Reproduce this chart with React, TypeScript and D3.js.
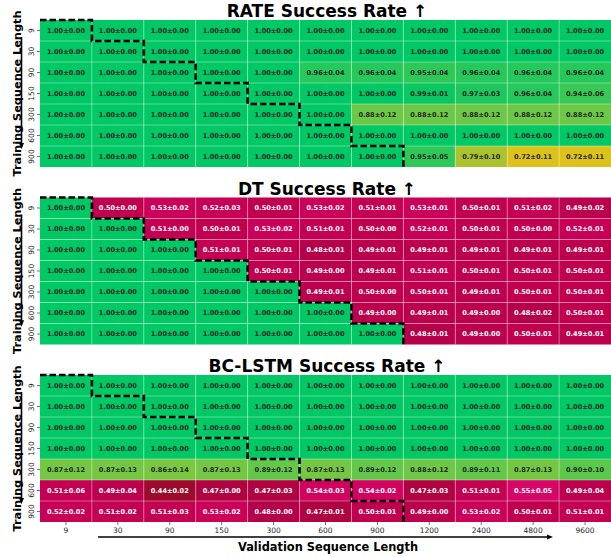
import React from 'react';
import * as d3 from 'd3';

// validation lengths (columns) and training lengths (rows)
const valLengths = ['9', '30', '90', '150', '300', '600', '900', '1200', '2400', '4800', '9600'];
const trainLengths = ['9', '30', '90', '150', '300', '600', '900'];

const rateMean = [
  [1, 1, 1, 1, 1, 1, 1, 1, 1, 1, 1],
  [1, 1, 1, 1, 1, 1, 1, 1, 1, 1, 1],
  [1, 1, 1, 1, 1, 0.96, 0.96, 0.95, 0.96, 0.96, 0.96],
  [1, 1, 1, 1, 1, 1, 1, 0.99, 0.97, 0.96, 0.94],
  [1, 1, 1, 1, 1, 1, 0.88, 0.88, 0.88, 0.88, 0.88],
  [1, 1, 1, 1, 1, 1, 1, 1, 1, 1, 1],
  [1, 1, 1, 1, 1, 1, 1, 0.95, 0.79, 0.72, 0.72],
];
const rateStd = [
  [0, 0, 0, 0, 0, 0, 0, 0, 0, 0, 0],
  [0, 0, 0, 0, 0, 0, 0, 0, 0, 0, 0],
  [0, 0, 0, 0, 0, 0.04, 0.04, 0.04, 0.04, 0.04, 0.04],
  [0, 0, 0, 0, 0, 0, 0, 0.01, 0.03, 0.04, 0.06],
  [0, 0, 0, 0, 0, 0, 0.12, 0.12, 0.12, 0.12, 0.12],
  [0, 0, 0, 0, 0, 0, 0, 0, 0, 0, 0],
  [0, 0, 0, 0, 0, 0, 0, 0.05, 0.1, 0.11, 0.11],
];

const dtMean = [
  [1, 0.5, 0.53, 0.52, 0.5, 0.53, 0.51, 0.53, 0.5, 0.51, 0.49],
  [1, 1, 0.51, 0.5, 0.53, 0.51, 0.5, 0.52, 0.5, 0.5, 0.52],
  [1, 1, 1, 0.51, 0.5, 0.48, 0.49, 0.49, 0.49, 0.49, 0.49],
  [1, 1, 1, 1, 0.5, 0.49, 0.49, 0.51, 0.5, 0.5, 0.5],
  [1, 1, 1, 1, 1, 0.49, 0.5, 0.5, 0.49, 0.5, 0.5],
  [1, 1, 1, 1, 1, 1, 0.49, 0.49, 0.49, 0.48, 0.5],
  [1, 1, 1, 1, 1, 1, 1, 0.48, 0.49, 0.5, 0.49],
];
const dtStd = [
  [0, 0, 0.02, 0.03, 0.01, 0.02, 0.01, 0.01, 0.01, 0.02, 0.02],
  [0, 0, 0, 0.01, 0.02, 0.01, 0, 0.01, 0.01, 0, 0.01],
  [0, 0, 0, 0.01, 0.01, 0.01, 0.01, 0.01, 0.01, 0.01, 0.01],
  [0, 0, 0, 0, 0.01, 0, 0.01, 0.01, 0.01, 0.01, 0.01],
  [0, 0, 0, 0, 0, 0.01, 0, 0.01, 0.01, 0.01, 0.01],
  [0, 0, 0, 0, 0, 0, 0, 0.01, 0, 0.02, 0.01],
  [0, 0, 0, 0, 0, 0, 0, 0.01, 0, 0.01, 0.01],
];

const lstmMean = [
  [1, 1, 1, 1, 1, 1, 1, 1, 1, 1, 1],
  [1, 1, 1, 1, 1, 1, 1, 1, 1, 1, 1],
  [1, 1, 1, 1, 1, 1, 1, 1, 1, 1, 1],
  [1, 1, 1, 1, 1, 1, 1, 1, 1, 1, 1],
  [0.87, 0.87, 0.86, 0.87, 0.89, 0.87, 0.89, 0.88, 0.89, 0.87, 0.9],
  [0.51, 0.49, 0.44, 0.47, 0.47, 0.54, 0.54, 0.47, 0.51, 0.55, 0.49],
  [0.52, 0.51, 0.51, 0.53, 0.48, 0.47, 0.5, 0.49, 0.53, 0.5, 0.51],
];
const lstmStd = [
  [0, 0, 0, 0, 0, 0, 0, 0, 0, 0, 0],
  [0, 0, 0, 0, 0, 0, 0, 0, 0, 0, 0],
  [0, 0, 0, 0, 0, 0, 0, 0, 0, 0, 0],
  [0, 0, 0, 0, 0, 0, 0, 0, 0, 0, 0],
  [0.12, 0.13, 0.14, 0.13, 0.12, 0.13, 0.12, 0.12, 0.11, 0.13, 0.1],
  [0.06, 0.04, 0.02, 0, 0.03, 0.03, 0.02, 0.03, 0.01, 0.05, 0.04],
  [0.02, 0.02, 0.03, 0.02, 0, 0.01, 0.01, 0, 0.02, 0.01, 0.01],
];

const panels = [
  { title: 'RATE Success Rate ↑', mean: rateMean, std: rateStd, top: 20 },
  { title: 'DT Success Rate ↑', mean: dtMean, std: dtStd, top: 197.5 },
  { title: 'BC-LSTM Success Rate ↑', mean: lstmMean, std: lstmStd, top: 375 },
];

const W = 611;
const H = 557;
const left = 40;
const right = 611;
const panelH = 147;
const FONT = '"DejaVu Sans", sans-serif';

const color = d3
  .scaleLinear<string>()
  .domain([0.44, 0.48, 0.5, 0.53, 0.55, 0.72, 0.79, 0.88, 0.95, 1])
  .range(['#9c0a2c', '#b5004a', '#c0004f', '#cb0059', '#d60568', '#dcc21a', '#a9c22e', '#6cc846', '#2ec859', '#00c864'])
  .clamp(true);

function Panel({ p, showX }: any) {
  const x = d3.scaleBand<string>().domain(valLengths).range([left, right]);
  const y = d3.scaleBand<string>().domain(trainLengths).range([p.top, p.top + panelH]);
  const bottom = p.top + panelH;

  // staircase of the "val <= train" region
  const pts: [number, number][] = [[x(valLengths[0])!, y(trainLengths[0])!]];
  trainLengths.forEach((t, i) => {
    const xr = x(valLengths[i])! + x.bandwidth();
    const yt = y(t)!;
    pts.push([xr, yt]);
    pts.push([xr, yt + y.bandwidth()]);
  });
  const stair = d3.line()(pts);

  const midY = p.top + panelH / 2;

  return (
    <g>
      <text x={327} y={p.top - 3} textAnchor="middle" fontSize={17} fontWeight="bold" fontFamily={FONT}>
        {p.title}
      </text>
      {trainLengths.map((t, i) =>
        valLengths.map((v, j) => {
          const m = p.mean[i][j];
          const s = p.std[i][j];
          return (
            <g key={t + '-' + v}>
              <rect x={x(v)} y={y(t)} width={x.bandwidth()} height={y.bandwidth()} fill={color(m)} />
              <text
                x={x(v)! + x.bandwidth() / 2}
                y={y(t)! + y.bandwidth() / 2}
                dy="0.35em"
                textAnchor="middle"
                fontSize={6.6}
                fontWeight="bold"
                fontFamily={FONT}
                fill={m > 0.65 ? '#262626' : '#ffffff'}
              >
                {m.toFixed(2) + '±' + s.toFixed(2)}
              </text>
            </g>
          );
        })
      )}
      {/* grid */}
      {valLengths.slice(1).map((v) => (
        <line key={'gx' + v} x1={x(v)} x2={x(v)} y1={p.top} y2={bottom} stroke="#fff" strokeOpacity={0.45} strokeWidth={0.8} />
      ))}
      {trainLengths.slice(1).map((t) => (
        <line key={'gy' + t} x1={left} x2={right} y1={y(t)} y2={y(t)} stroke="#fff" strokeOpacity={0.45} strokeWidth={0.8} />
      ))}
      <path d={stair!} fill="none" stroke="#000" strokeWidth={2.6} strokeDasharray="6.5,3" />
      {/* y ticks */}
      {trainLengths.map((t) => {
        const cy = y(t)! + y.bandwidth() / 2;
        return (
          <g key={'yt' + t}>
            <line x1={left - 3} x2={left} y1={cy} y2={cy} stroke="#333" strokeWidth={0.7} />
            <text transform={`translate(${left - 6},${cy}) rotate(-90)`} textAnchor="middle" fontSize={7.5} fontFamily={FONT} fill="#262626">
              {t}
            </text>
          </g>
        );
      })}
      <text transform={`translate(20.5,${midY}) rotate(-90)`} textAnchor="middle" fontSize={11.3} fontWeight="bold" fontFamily={FONT}>
        Training Sequence Length
      </text>
      <line x1={21.5} x2={21.5} y1={p.top + 17} y2={bottom - 21} stroke="#000" strokeWidth={1.6} markerEnd="url(#arrowHead)" />
      {showX && (
        <g>
          {valLengths.map((v) => {
            const cx = x(v)! + x.bandwidth() / 2;
            return (
              <g key={'xt' + v}>
                <line x1={cx} x2={cx} y1={bottom} y2={bottom + 3} stroke="#333" strokeWidth={0.7} />
                <text x={cx} y={bottom + 11} textAnchor="middle" fontSize={7.5} fontFamily={FONT} fill="#262626">
                  {v}
                </text>
              </g>
            );
          })}
          <line x1={98} x2={550} y1={bottom + 15} y2={bottom + 15} stroke="#000" strokeWidth={1.6} markerEnd="url(#arrowHead)" />
          <text x={328} y={bottom + 29} textAnchor="middle" fontSize={11.4} fontWeight="bold" fontFamily={FONT}>
            Validation Sequence Length
          </text>
        </g>
      )}
    </g>
  );
}

export default function App() {
  return (
    <svg width={W} height={H} style={{ position: 'absolute', left: 0, top: 0, background: '#fff' }}>
      <defs>
        <marker id="arrowHead" viewBox="0 0 10 10" refX={5} refY={5} markerWidth={4} markerHeight={4} orient="auto">
          <path d="M0,1 L10,5 L0,9 z" fill="#000" />
        </marker>
      </defs>
      <rect width={W} height={H} fill="#fff" />
      {panels.map((p, i) => (
        <Panel key={p.title} p={p} showX={i === panels.length - 1} />
      ))}
    </svg>
  );
}
